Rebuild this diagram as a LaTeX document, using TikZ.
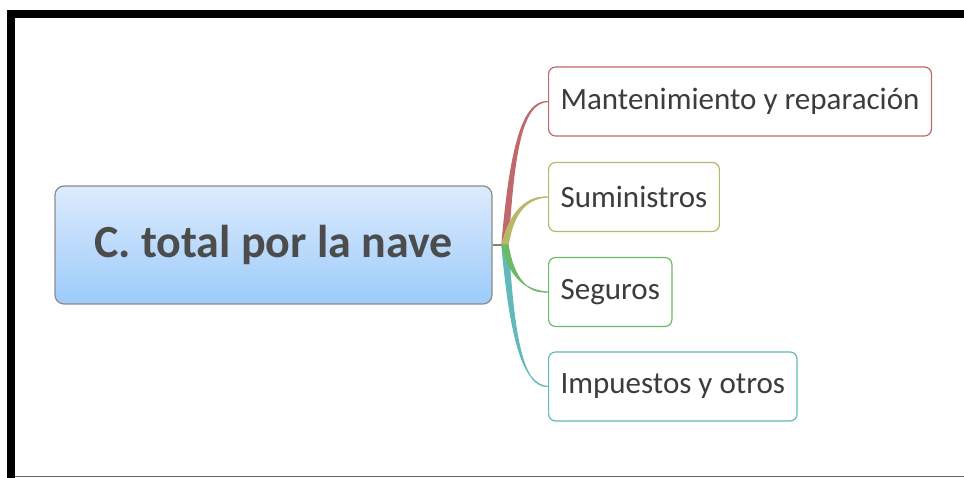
\documentclass[tikz,border=0pt]{standalone}
\usepackage{fontspec}
\setmainfont{Carlito}
\usetikzlibrary{positioning,calc}
\definecolor{mapred}{HTML}{C0686A}
\definecolor{mapolive}{HTML}{B8B86A}
\definecolor{mapgreen}{HTML}{6CB96A}
\definecolor{mapteal}{HTML}{62B8BA}
\definecolor{maptext}{HTML}{3C3C3C}
\definecolor{topblue}{HTML}{DDEBFC}
\definecolor{lowblue}{HTML}{9CCBFB}
\tikzset{every path/.style={line join=round},
  topicbox/.style={draw=black!45, line width=1.2pt, rounded corners=9pt,
    top color=topblue, bottom color=lowblue,
    minimum width=437pt, minimum height=118pt, text=black!70,
    font=\fontsize{46}{48}\selectfont\bfseries},
  subbox/.style={draw=#1, fill=white, line width=1.2pt, rounded corners=7pt,
    minimum height=69pt, anchor=west, inner xsep=12pt, text=maptext,
    font=\fontsize{31}{33}\selectfont}}
\newcommand{\branch}[4]{%
  \filldraw[#1, line width=1pt] ($(hub)+(-3.2,0)$) .. controls ($(#3)+(-2,0)$) and ($(#4)+(0,-1.2)$) ..
     (#2.west) .. controls ($(#4)+(0,1.2)$) and ($(#3)+(2,0)$) .. ($(hub)+(3.2,0)$) -- cycle;}

\begin{document}
\begin{tikzpicture}[x=1pt,y=-1pt]
   \useasboundingbox (0,0) rectangle (964,478);
   % frame
   \fill[black] (7,10) rectangle (964,18);
   \fill[black] (7,10) rectangle (15,478);
   \draw[black!60, line width=1.5pt] (15,476.5) -- (964,476.5);
   % central topic
   \node[topicbox] (total) at (273.5,245) {C. total por la nave};
   \coordinate (hub) at (505,245);
   % subtopics
   \node[subbox=mapred] (mant) at (548,101.5) {Mantenimiento y reparación};
   \node[subbox=mapolive] (sumi) at (548,197) {Suministros};
   \node[subbox=mapgreen] (segu) at (548,292) {Seguros};
   \node[subbox=mapteal] (impu) at (548,386.5) {Impuestos y otros};
   % branches
   \draw[black!50, line width=1.2pt] (total.east) -- (hub);
   \branch{mapred}{mant}{512,150}{522,101.5}
   \branch{mapteal}{impu}{512,335}{522,386.5}
   \branch{mapolive}{sumi}{512,210}{528,197}
   \branch{mapgreen}{segu}{512,280}{528,292}
\end{tikzpicture}
\end{document}
